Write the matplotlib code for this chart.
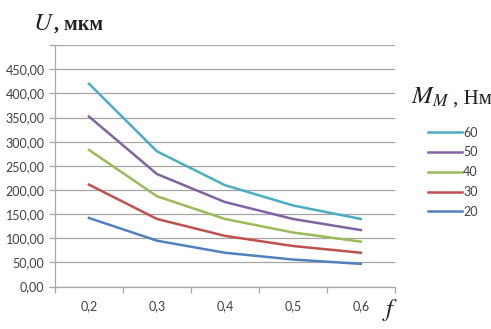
import matplotlib
matplotlib.use('Agg')
import matplotlib.pyplot as plt
from matplotlib.lines import Line2D

# data
categories = ['0,2', '0,3', '0,4', '0,5', '0,6']
series_names = ['60', '50', '40', '30', '20']
u_60 = [420, 280, 210, 168, 140]
u_50 = [352, 233, 175, 140, 117]
u_40 = [283, 187, 140, 112, 93]
u_30 = [211, 140, 105, 84, 70]
u_20 = [142, 95, 70, 56, 47]
series_values = [u_60, u_50, u_40, u_30, u_20]
colors = ['#4bacc6', '#8064a2', '#9bbb59', '#c0504d', '#4f81bd']
y_ticks = [0, 50, 100, 150, 200, 250, 300, 350, 400, 450]

plt.rcParams['mathtext.fontset'] = 'stix'
plt.rcParams['font.family'] = ['Lato', 'DejaVu Sans']

fig = plt.figure(figsize=(4.91, 3.29), dpi=100)
ax = fig.add_axes([0.112, 0.129, 0.692, 0.734])

x = list(range(len(categories)))
for vals, c in zip(series_values, colors):
    ax.plot(x, vals, color=c, linewidth=1.8, solid_joinstyle='round')

ax.set_xlim(-0.5, len(categories) - 0.5)
ax.set_ylim(0, 500)
ax.set_yticks(y_ticks + [500])
ax.set_yticklabels([f'{v:.2f}'.replace('.', ',') for v in y_ticks] + [''])
ax.set_xticks(x)
ax.set_xticklabels(categories)
ax.set_xticks([i - 0.5 for i in range(len(categories) + 1)], minor=True)

ax.grid(axis='y', color='#a6a6a6', linewidth=0.9)
ax.set_axisbelow(True)
for s in ['top', 'right']:
    ax.spines[s].set_visible(False)
for s in ['left', 'bottom']:
    ax.spines[s].set_color('#a6a6a6')
    ax.spines[s].set_linewidth(0.9)

ax.tick_params(axis='y', colors='#a6a6a6', labelcolor='#404040', labelsize=9, length=4, width=0.9)
ax.tick_params(axis='x', which='major', length=0, labelcolor='#404040', labelsize=9, pad=10)
ax.tick_params(axis='x', which='minor', length=4, width=0.9, colors='#a6a6a6')

# axis titles
fig.text(0.067, 0.91, r'$U$', fontsize=18, color='#222222', va='baseline')
fig.text(0.11, 0.91, ', мкм', fontsize=14.5, family='Liberation Serif', fontweight='bold',
         color='#222222', va='baseline')
fig.text(0.778, 0.038, r'$f$', fontsize=18, color='#222222', va='baseline')
fig.text(0.838, 0.685, r'$M_{M}$', fontsize=18, color='#222222', va='baseline')
fig.text(0.922, 0.685, ', Нм', fontsize=15, family='Liberation Serif', color='#222222', va='baseline')

handles = [Line2D([0], [0], color=c, linewidth=1.8) for c in colors]
fig.legend(handles, series_names, loc='upper left', bbox_to_anchor=(0.872, 0.615),
           frameon=False, fontsize=9, labelcolor='#404040', handlelength=2.7,
           handletextpad=0.1, labelspacing=0.62, borderaxespad=0, borderpad=0)

fig.savefig('out.png', dpi=100)
